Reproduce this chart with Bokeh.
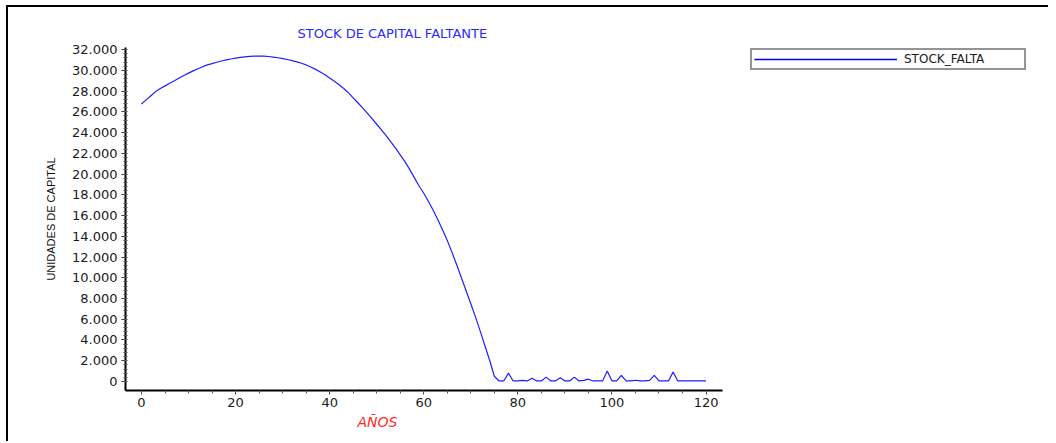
from bokeh.plotting import figure
from bokeh.models import Range1d, FixedTicker, Legend, LegendItem, Title
from bokeh.layouts import row
from bokeh.embed import file_html
from bokeh.resources import INLINE

# ---- data ----
years = list(range(0, 121))
stock_falta = [
    26750, 27150, 27550, 27950, 28250, 28500, 28760, 29000, 29250, 29500,   # 0-9
    29730, 29950, 30150, 30350, 30530, 30650, 30780, 30900, 31000, 31090,   # 10-19
    31170, 31240, 31300, 31340, 31360, 31370, 31360, 31330, 31280, 31210,   # 20-29
    31130, 31040, 30940, 30820, 30680, 30520, 30320, 30090, 29840, 29570,   # 30-39
    29270, 28950, 28610, 28250, 27820, 27350, 26870, 26380, 25870, 25340,   # 40-49
    24800, 24250, 23700, 23100, 22500, 21850, 21200, 20450, 19650, 18850,   # 50-59
    18150, 17350, 16500, 15600, 14600, 13600, 12450, 11250, 10000, 8750,    # 60-69
    7500, 6200, 4850, 3450, 2050, 500, 50, 50, 800, 50,                     # 70-79
    50, 100, 50, 320, 50, 50, 420, 50, 50, 360,                             # 80-89
    50, 50, 420, 50, 100, 220, 50, 50, 50, 1000,                            # 90-99
    50, 50, 580, 50, 50, 120, 50, 50, 100, 580,                             # 100-109
    50, 50, 50, 900, 50, 50, 50, 50, 50, 50,                                # 110-119
    50,                                                                     # 120
]
x_ticks = [0, 20, 40, 60, 80, 100, 120]
x_minor_ticks = list(range(0, 121, 5))
y_ticks = list(range(0, 32001, 2000))
y_minor_ticks = list(range(0, 32001, 400))
y_tick_labels = [f"{v:,}".replace(",", ".") for v in y_ticks]

title_text = "STOCK DE CAPITAL FALTANTE"
x_label = "AÑOS"
y_label = "UNIDADES DE CAPITAL"
series_name = "STOCK_FALTA"

LINE_COLOR = "#1f1fff"
H = 434

# ---- main figure ----
p = figure(
    width=724, height=H,
    x_range=Range1d(-3.4, 123.5), y_range=Range1d(-870, 32200),
    output_backend="svg", toolbar_location=None,
    min_border_left=117, min_border_top=40, min_border_right=10, min_border_bottom=51,
)
p.background_fill_color = "white"
p.border_fill_color = "white"
p.outline_line_color = None
p.xgrid.visible = False
p.ygrid.visible = False

p.line(years, stock_falta, line_color=LINE_COLOR, line_width=1.2)

# title
p.title.text = title_text
p.title.text_color = "#2a2aff"
p.title.text_font = "DejaVu Sans"
p.title.text_font_size = "13px"
p.title.text_font_style = "normal"
p.title.align = "left"
p.title.offset = 172
p.title.standoff = 13

# x axis
xa = p.xaxis[0]
xa.ticker = FixedTicker(ticks=x_ticks, minor_ticks=x_minor_ticks)
xa.axis_line_width = 2
xa.axis_line_color = "black"
xa.major_tick_out = 4
xa.major_tick_in = 0
xa.minor_tick_out = 3
xa.minor_tick_in = 0
xa.major_tick_line_color = "#333333"
xa.minor_tick_line_color = "#555555"
xa.major_label_standoff = 3
xa.major_label_text_font = "DejaVu Sans"
xa.major_label_text_font_size = "13px"
xa.major_label_text_color = "#1a1a1a"

# x label, placed left of centre as in the original
p.add_layout(Title(text=x_label, align="left", offset=232, standoff=5,
                   text_color="#ff2a2a", text_font="DejaVu Sans",
                   text_font_size="14px", text_font_style="italic"), "below")

# y axis
ya = p.yaxis[0]
ya.ticker = FixedTicker(ticks=y_ticks, minor_ticks=y_minor_ticks)
ya.major_label_overrides = {v: s for v, s in zip(y_ticks, y_tick_labels)}
ya.axis_line_width = 2
ya.axis_line_color = "black"
ya.major_tick_out = 4
ya.major_tick_in = 0
ya.minor_tick_out = 2
ya.minor_tick_in = 2
ya.major_tick_line_color = "#333333"
ya.minor_tick_line_color = "#555555"
ya.major_label_standoff = 4
ya.major_label_text_font = "DejaVu Sans"
ya.major_label_text_font_size = "13px"
ya.major_label_text_color = "#1a1a1a"
ya.axis_label = y_label
ya.axis_label_text_font = "Liberation Sans"
ya.axis_label_text_font_size = "11px"
ya.axis_label_text_font_style = "normal"
ya.axis_label_text_color = "#111111"
ya.axis_label_standoff = 12

# ---- legend panel (separate figure to the right; its frame is aligned with p's) ----
q = figure(
    width=316, height=H,
    x_range=Range1d(0, 1), y_range=Range1d(0, 1),
    output_backend="svg", toolbar_location=None,
    min_border=0,
)
q.axis.visible = False
q.xgrid.visible = False
q.ygrid.visible = False
q.outline_line_color = None
q.background_fill_color = "white"
q.border_fill_color = "white"
# same series, lying outside this panel's view: only serves as the legend key
key = q.line(years, stock_falta, line_color="#0000ff", line_width=1.5)

legend = Legend(
    items=[LegendItem(label=series_name, renderers=[key])],
    location=(18, 320),
    glyph_width=143, glyph_height=10,
    label_width=118, label_height=10, label_standoff=7,
    padding=2, spacing=0, margin=0,
    border_line_color="#2a2a2a", border_line_width=2,
    label_text_font="DejaVu Sans", label_text_font_size="12px",
    label_text_color="#1a1a1a",
    background_fill_color="white", background_fill_alpha=1,
)
q.add_layout(legend)

layout = row(p, q, spacing=0)
layout.styles = {"border-top": "2px solid black", "border-left": "2px solid black",
                 "margin-left": "6px", "margin-top": "5px"}

open("out.html", "w").write(file_html(layout, INLINE))
